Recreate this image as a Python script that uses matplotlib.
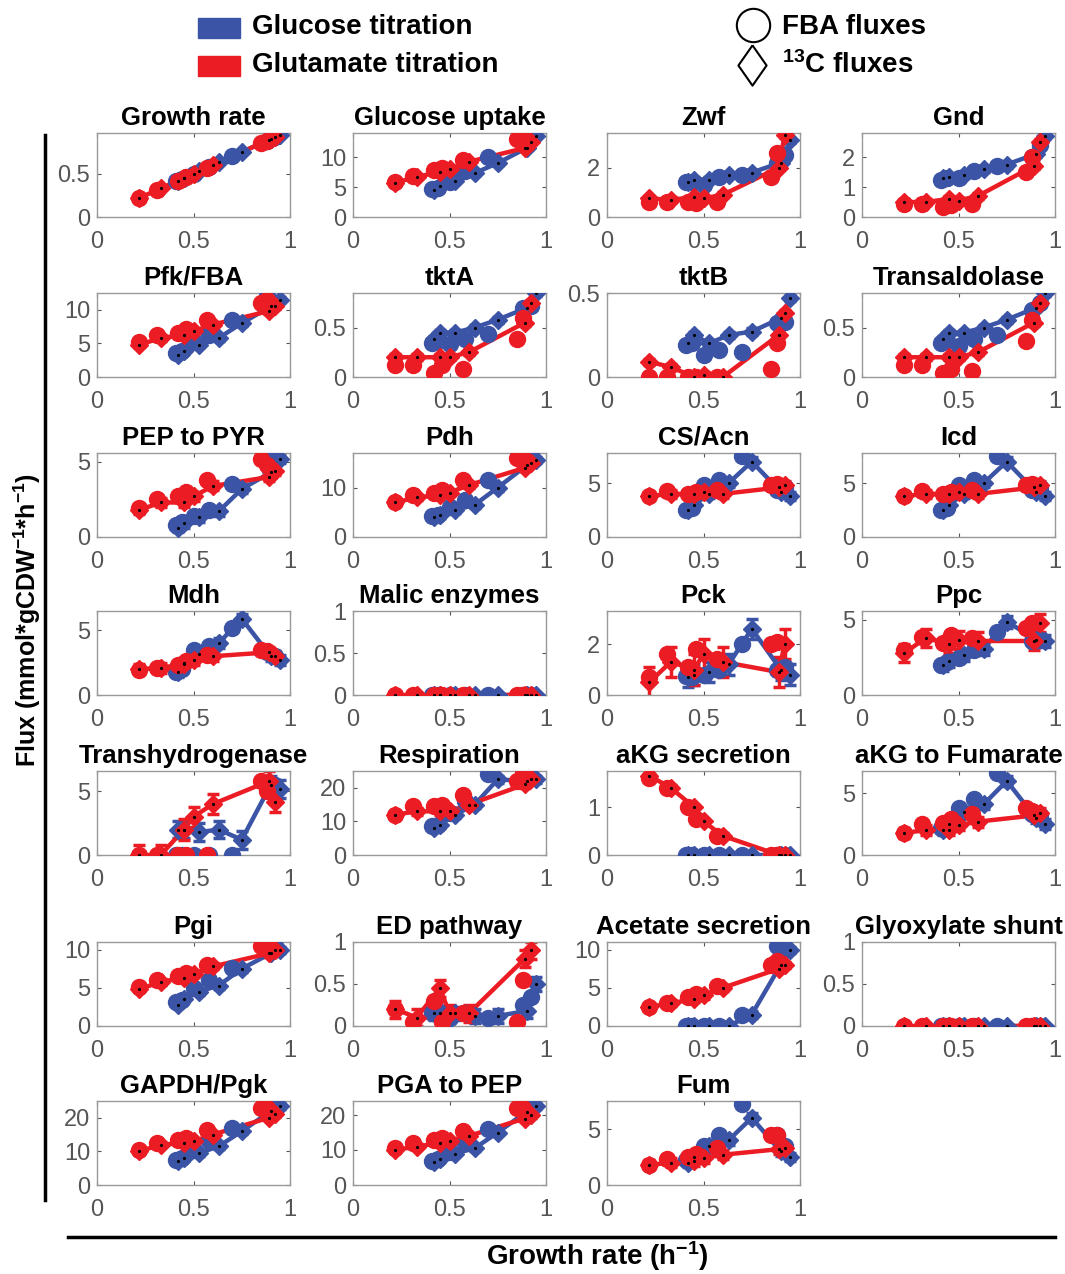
import matplotlib
matplotlib.use('Agg')
import matplotlib.pyplot as plt
from matplotlib.lines import Line2D
import numpy as np

plt.rcParams['font.family'] = ['Liberation Sans', 'DejaVu Sans']
plt.rcParams['mathtext.default'] = 'regular'

BLUE = '#3b54a5'
RED = '#ec1c24'
GREY = '#555555'

# growth rates of the conditions (13C fit and FBA prediction)
glc_x13 = [0.42, 0.45, 0.53, 0.63, 0.75, 0.90, 0.95]
glc_xfba = [0.41, 0.44, 0.50, 0.58, 0.70, 0.88, 0.92]
glu_x13 = [0.22, 0.33, 0.45, 0.50, 0.60, 0.89, 0.92]
glu_xfba = [0.22, 0.31, 0.42, 0.46, 0.57, 0.85, 0.88]

titles = ['Growth rate', 'Glucose uptake', 'Zwf', 'Gnd',
          'Pfk/FBA', 'tktA', 'tktB', 'Transaldolase',
          'PEP to PYR', 'Pdh', 'CS/Acn', 'Icd',
          'Mdh', 'Malic enzymes', 'Pck', 'Ppc',
          'Transhydrogenase', 'Respiration', 'aKG secretion', 'aKG to Fumarate',
          'Pgi', 'ED pathway', 'Acetate secretion', 'Glyoxylate shunt',
          'GAPDH/Pgk', 'PGA to PEP', 'Fum']

ytops = [0.97, 14, 3.4, 2.8,
         12.5, 0.85, 0.5, 0.85,
         5.6, 17, 7.8, 7.8,
         6.5, 1, 3.3, 5.6,
         6.6, 25, 1.75, 6.8,
         11, 1, 11, 1,
         25, 24, 7.5]

yticks = [[0, 0.5], [0, 5, 10], [0, 2], [0, 1, 2],
          [0, 5, 10], [0, 0.5], [0, 0.5], [0, 0.5],
          [0, 5], [0, 10], [0, 5], [0, 5],
          [0, 5], [0, 0.5, 1], [0, 2], [0, 5],
          [0, 5], [0, 10, 20], [0, 1], [0, 5],
          [0, 5, 10], [0, 0.5, 1], [0, 5, 10], [0, 0.5, 1],
          [0, 10, 20], [0, 10, 20], [0, 5]]

glc_13c = [
    [0.42, 0.45, 0.53, 0.63, 0.75, 0.90, 0.95],
    [4.5, 5.2, 6.0, 7.3, 9.0, 11.5, 13.5],
    [1.4, 1.5, 1.5, 1.7, 1.8, 2.2, 3.1],
    [1.3, 1.35, 1.4, 1.6, 1.75, 2.1, 2.7],
    [3.2, 3.8, 4.8, 5.8, 8.0, 10.5, 11.5],
    [0.38, 0.45, 0.45, 0.5, 0.58, 0.7, 0.85],
    [0.2, 0.25, 0.2, 0.25, 0.27, 0.35, 0.47],
    [0.38, 0.45, 0.45, 0.5, 0.58, 0.7, 0.85],
    [0.6, 0.9, 1.3, 1.7, 3.2, 4.3, 5.2],
    [4.0, 4.5, 5.5, 6.5, 10.0, 14.5, 15.5],
    [2.5, 3.0, 4.0, 5.0, 7.0, 4.2, 3.8],
    [2.5, 3.0, 4.0, 5.0, 7.0, 4.2, 3.8],
    [1.8, 2.5, 3.2, 4.0, 5.9, 3.0, 2.7],
    [0, 0, 0, 0, 0, 0, 0],
    [0.7, 0.8, 0.9, 1.2, 2.6, 1.0, 0.8],
    [2.0, 2.3, 2.7, 3.1, 4.9, 3.7, 3.6],
    [2.0, 2.0, 1.8, 2.0, 1.2, 5.5, 5.2],
    [8.0, 9.0, 12.0, 15.0, 22.5, 22.0, 22.5],
    [0, 0, 0, 0, 0, 0, 0],
    [2.0, 2.5, 3.5, 4.1, 6.0, 3.0, 2.5],
    [2.8, 3.5, 4.5, 5.3, 7.5, 9.5, 10.0],
    [0.15, 0.15, 0.15, 0.12, 0.12, 0.18, 0.5],
    [0, 0, 0, 0, 1.5, 8.0, 10.0],
    [0, 0, 0, 0, 0, 0, 0],
    [7.0, 8.0, 9.5, 11.5, 16.0, 22.0, 23.5],
    [6.5, 7.5, 9.0, 10.5, 15.0, 21.0, 22.5],
    [2.0, 2.5, 3.5, 4.0, 6.0, 3.0, 2.5],
]

glc_fba = [
    [0.41, 0.44, 0.50, 0.58, 0.70, 0.88, 0.92],
    [4.6, 4.8, 5.8, 7.6, 10.0, 14.0, 13.5],
    [1.4, 1.4, 1.3, 1.6, 1.7, 2.2, 2.5],
    [1.25, 1.3, 1.3, 1.55, 1.7, 2.0, 2.4],
    [3.5, 3.8, 5.2, 6.2, 8.5, 12.0, 11.0],
    [0.34, 0.36, 0.33, 0.38, 0.44, 0.7, 0.72],
    [0.19, 0.2, 0.13, 0.16, 0.15, 0.32, 0.33],
    [0.34, 0.36, 0.31, 0.38, 0.42, 0.68, 0.75],
    [0.8, 1.0, 1.4, 1.8, 3.5, 5.6, 5.5],
    [4.2, 4.5, 6.0, 7.5, 11.5, 17.0, 16.5],
    [2.5, 2.7, 4.8, 5.3, 7.5, 4.4, 4.6],
    [2.5, 2.7, 4.8, 5.3, 7.5, 4.4, 4.6],
    [1.8, 2.0, 3.5, 3.8, 5.2, 3.3, 3.0],
    [0, 0, 0, 0, 0, 0, 0],
    [0.75, 0.7, 0.8, 1.0, 2.0, 1.0, 1.1],
    [2.0, 2.2, 2.5, 3.0, 4.2, 3.6, 3.7],
    [0, 0, 0, 0, 0, 5.6, 5.5],
    [8.5, 9.0, 12.5, 16.0, 24.0, 24.0, 23.0],
    [0, 0, 0, 0, 0, 0, 0],
    [2.2, 2.5, 3.8, 4.5, 6.6, 3.3, 3.2],
    [3.2, 3.4, 5.0, 6.0, 7.6, 11.0, 10.5],
    [0.15, 0.18, 0.1, 0.15, 0.1, 0.25, 0.35],
    [0, 0, 0, 0, 1.5, 10.5, 10.0],
    [0, 0, 0, 0, 0, 0, 0],
    [7.5, 8.0, 10.5, 13.0, 17.0, 24.5, 24.0],
    [7.0, 7.5, 9.5, 12.0, 16.0, 23.5, 23.0],
    [2.2, 2.5, 3.5, 4.5, 7.2, 4.5, 3.5],
]

glu_13c = [
    [0.22, 0.33, 0.45, 0.50, 0.60, 0.89, 0.92],
    [5.7, 6.7, 7.5, 8.0, 9.2, 11.5, 12.5],
    [0.75, 0.7, 0.8, 0.75, 0.9, 2.0, 3.3],
    [0.5, 0.5, 0.6, 0.55, 0.7, 1.7, 2.5],
    [4.8, 5.8, 6.3, 6.8, 7.8, 9.8, 10.5],
    [0.2, 0.2, 0.2, 0.2, 0.25, 0.55, 0.75],
    [0.09, 0.06, 0.0, 0.01, 0.0, 0.25, 0.38],
    [0.2, 0.2, 0.2, 0.2, 0.25, 0.55, 0.75],
    [1.8, 2.3, 2.3, 2.7, 3.4, 4.0, 4.4],
    [7.0, 8.0, 8.5, 9.0, 10.5, 14.0, 15.0],
    [3.8, 4.0, 4.0, 4.2, 4.0, 4.6, 4.8],
    [3.8, 4.0, 4.0, 4.2, 4.0, 4.6, 4.8],
    [2.0, 2.1, 2.4, 2.7, 3.0, 3.3, 3.0],
    [0, 0, 0, 0, 0, 0, 0],
    [0.5, 1.3, 1.0, 1.6, 1.3, 0.9, 2.0],
    [2.8, 3.8, 3.4, 3.7, 3.6, 3.6, 4.8],
    [0, 0, 2.0, 3.0, 4.0, 5.8, 4.2],
    [12.0, 13.0, 13.0, 13.0, 15.0, 21.0, 22.5],
    [1.65, 1.4, 1.0, 0.7, 0.4, 0.0, 0.0],
    [1.8, 2.0, 2.0, 2.4, 2.7, 3.2, 3.4],
    [4.8, 5.8, 6.3, 6.8, 7.8, 9.5, 10.0],
    [0.2, 0.1, 0.45, 0.15, 0.15, 0.8, 0.9],
    [2.5, 3.0, 3.5, 4.0, 5.0, 7.5, 8.0],
    [0, 0, 0, 0, 0, 0, 0],
    [10.0, 12.0, 12.5, 13.0, 15.0, 20.0, 21.0],
    [10.0, 11.0, 12.0, 12.5, 14.0, 19.0, 20.0],
    [1.8, 2.0, 2.1, 2.4, 2.7, 3.2, 3.3],
]

glu_fba = [
    [0.22, 0.31, 0.42, 0.46, 0.57, 0.85, 0.88],
    [5.8, 6.9, 7.8, 8.2, 9.5, 13.0, 13.5],
    [0.6, 0.6, 0.6, 0.55, 0.6, 1.6, 2.6],
    [0.45, 0.45, 0.35, 0.4, 0.45, 1.5, 2.0],
    [5.2, 6.2, 6.6, 7.2, 8.5, 11.0, 11.5],
    [0.12, 0.12, 0.04, 0.12, 0.08, 0.38, 0.6],
    [0.0, 0.0, 0.0, 0.0, 0.0, 0.05, 0.2],
    [0.12, 0.12, 0.04, 0.08, 0.06, 0.36, 0.58],
    [1.9, 2.5, 2.7, 3.0, 3.8, 5.2, 4.8],
    [7.0, 8.5, 9.0, 9.5, 11.5, 16.0, 16.0],
    [3.8, 4.3, 4.0, 4.2, 4.4, 4.8, 4.9],
    [3.8, 4.3, 4.0, 4.2, 4.4, 4.8, 4.9],
    [1.9, 2.1, 2.3, 2.6, 3.1, 3.5, 3.4],
    [0, 0, 0, 0, 0, 0, 0],
    [0.7, 1.6, 1.1, 1.8, 1.4, 2.0, 2.1],
    [3.0, 3.9, 3.5, 4.0, 3.8, 4.5, 4.8],
    [0, 0, 0, 0, 0, 5.8, 5.0],
    [12.0, 14.5, 14.5, 15.0, 18.0, 22.0, 24.0],
    [1.6, 1.4, 1.0, 0.75, 0.4, 0.0, 0.0],
    [1.8, 2.5, 2.6, 2.9, 3.3, 3.8, 3.6],
    [5.1, 6.0, 6.5, 7.0, 8.0, 10.5, 10.5],
    [0.2, 0.05, 0.3, 0.05, 0.15, 0.05, 0.55],
    [2.5, 3.0, 3.8, 4.2, 5.2, 8.0, 8.5],
    [0, 0, 0, 0, 0, 0, 0],
    [10.5, 12.5, 13.5, 14.0, 16.5, 23.0, 23.0],
    [10.5, 12.0, 13.0, 13.5, 15.5, 22.0, 22.0],
    [1.8, 2.3, 2.5, 2.8, 3.3, 4.5, 4.5],
]

# half-width of the 13C error bars, one value per panel
glc_err = [0, 0.3, 0.1, 0.1, 0.4, 0.03, 0.02, 0.03, 0.3, 0.6, 0.4, 0.4,
           0.4, 0, 0.4, 0.4, 0.7, 1.0, 0, 0.4, 0.4, 0.08, 0.4, 0, 0.8, 0.8, 0.4]
glu_err = [0, 0.3, 0.1, 0.1, 0.4, 0.03, 0.02, 0.03, 0.3, 0.6, 0.4, 0.4,
           0.4, 0, 0.6, 0.6, 0.8, 1.0, 0.05, 0.4, 0.4, 0.1, 0.4, 0, 0.8, 0.8, 0.4]

W, H = 1065, 1274
fig = plt.figure(figsize=(W / 100, H / 100), dpi=100)

col_left = [97, 353, 607, 862]
row_bottom = [217, 377, 537, 695, 855, 1026, 1185]
ax_w, ax_h = 193, 84


def draw_series(ax, x13, y13, err, xf, yf, color):
    ax.errorbar(x13, y13, yerr=err, fmt='none', ecolor=color,
                elinewidth=2.5, capsize=4, capthick=2.5, zorder=2)
    ax.plot(x13, y13, '-', color=color, lw=3.2, zorder=3)
    ax.plot(xf, yf, 'o', color=color, ms=11.5, mec=color, zorder=4)
    ax.plot(x13, y13, 'D', color=color, ms=9.5, mec=color, zorder=4)
    ax.plot(x13, y13, '.', color='black', ms=2.5, zorder=5)


for i, title in enumerate(titles):
    r, c = divmod(i, 4)
    left = col_left[c] / W
    bottom = 1 - row_bottom[r] / H
    ax = fig.add_axes([left, bottom, ax_w / W, ax_h / H])
    draw_series(ax, glc_x13, glc_13c[i], glc_err[i], glc_xfba, glc_fba[i], BLUE)
    draw_series(ax, glu_x13, glu_13c[i], glu_err[i], glu_xfba, glu_fba[i], RED)
    ax.set_xlim(0, 1)
    ax.set_ylim(0, ytops[i])
    ax.set_xticks([0, 0.5, 1])
    ax.set_xticklabels(['0', '0.5', '1'])
    ax.set_yticks(yticks[i])
    ax.set_yticklabels([f'{t:g}' for t in yticks[i]])
    ax.tick_params(direction='in', length=3, width=0.8, colors=GREY,
                   labelsize=17, top=True, right=True)
    ax.tick_params(axis='x', pad=10)
    ax.tick_params(axis='y', pad=5)
    for s in ax.spines.values():
        s.set_color('#999999')
        s.set_linewidth(1)
    ax.set_title(title, fontsize=18.5, fontweight='bold', pad=6)

# legend at the top
fig.patches.append(plt.Rectangle((198 / W, 1 - 38 / H), 42 / W, 20 / H,
                                 color=BLUE, transform=fig.transFigure))
fig.patches.append(plt.Rectangle((198 / W, 1 - 76 / H), 42 / W, 20 / H,
                                 color=RED, transform=fig.transFigure))
fig.text(252 / W, 1 - 27 / H, 'Glucose titration', fontsize=20,
         fontweight='bold', va='center')
fig.text(252 / W, 1 - 65 / H, 'Glutamate titration', fontsize=20,
         fontweight='bold', va='center')
diamond = [(0, 1), (0.7, 0), (0, -1), (-0.7, 0), (0, 1)]
fig.lines.append(Line2D([753 / W], [1 - 25 / H], marker='o', ms=24, mfc='white',
                        mec='black', mew=1.5, transform=fig.transFigure))
fig.lines.append(Line2D([752 / W], [1 - 65 / H], marker=diamond, ms=29,
                        mfc='white', mec='black', mew=1.5,
                        transform=fig.transFigure))
fig.text(782 / W, 1 - 27 / H, 'FBA fluxes', fontsize=20,
         fontweight='bold', va='center')
fig.text(782 / W, 1 - 65 / H, '$^{13}$C fluxes', fontsize=20,
         fontweight='bold', va='center')

# shared axis labels with bracket lines
fig.lines.append(Line2D([45 / W, 45 / W], [1 - 135 / H, 1 - 1200 / H],
                        color='black', lw=2.5, transform=fig.transFigure))
fig.lines.append(Line2D([68 / W, 1055 / W], [1 - 1237 / H, 1 - 1237 / H],
                        color='black', lw=2.5, transform=fig.transFigure))
fig.text(27 / W, 1 - 620 / H, 'Flux (mmol*gCDW$^{-1}$*h$^{-1}$)', rotation=90,
         fontsize=18, fontweight='bold', ha='center', va='center')
fig.text(597 / W, 1 - 1256 / H, 'Growth rate (h$^{-1}$)', fontsize=20,
         fontweight='bold', ha='center', va='center')

fig.savefig('out.png', dpi=100)
